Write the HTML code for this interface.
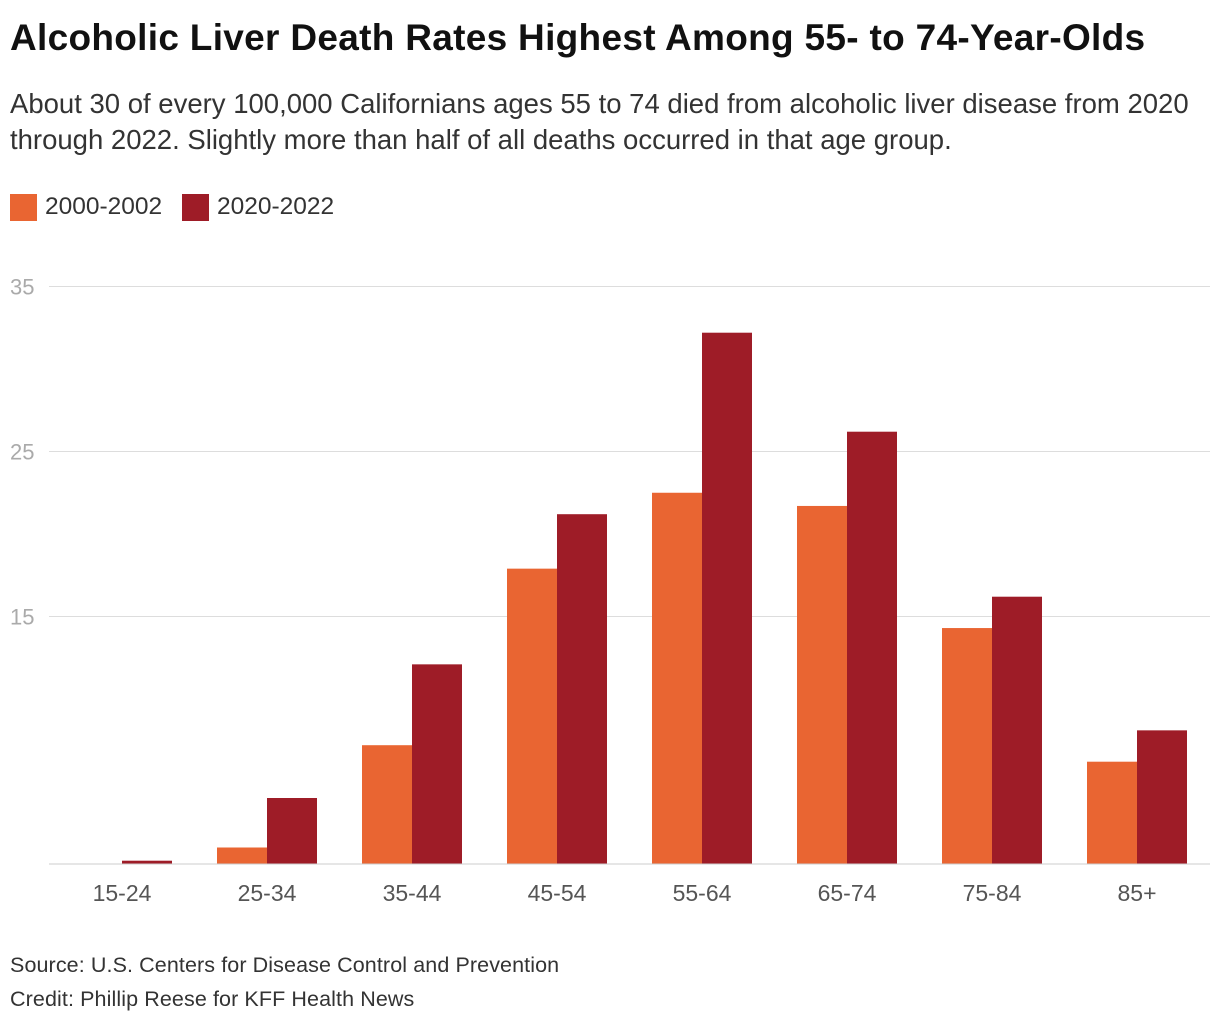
<!DOCTYPE html>
<html><head><meta charset="utf-8"><style>
body{margin:0;width:1220px;height:1022px;background:#fff;font-family:"Liberation Sans",sans-serif;color:#222;position:relative;overflow:hidden}
.t{position:absolute;left:10px;top:17px;font-size:37px;font-weight:bold;color:#111;white-space:nowrap;letter-spacing:0.3px}
.s{position:absolute;left:10px;top:86px;font-size:27.5px;line-height:36px;color:#333;white-space:nowrap}
.lg{position:absolute;top:193px;font-size:24.5px;color:#333;display:flex;align-items:center}
.sw{width:27px;height:27px;margin-right:8px}
.f{position:absolute;left:10px;font-size:21.5px;color:#333;letter-spacing:0.1px}
</style></head><body>
<div class="t">Alcoholic Liver Death Rates Highest Among 55- to 74-Year-Olds</div>
<div class="s">About 30 of every 100,000 Californians ages 55 to 74 died from alcoholic liver disease from 2020<br>through 2022. Slightly more than half of all deaths occurred in that age group.</div>
<div class="lg" style="left:10px"><div class="sw" style="background:#e96532"></div>2000-2002</div>
<div class="lg" style="left:182px"><div class="sw" style="background:#9e1c27"></div>2020-2022</div>
<svg id="c" width="1220" height="1022" style="position:absolute;left:0;top:0"></svg>
<div class="f" style="top:953px">Source: U.S. Centers for Disease Control and Prevention</div>
<div class="f" style="top:987px">Credit: Phillip Reese for KFF Health News</div>
<script>
const categories=["15-24","25-34","35-44","45-54","55-64","65-74","75-84","85+"];
const series2000=[0,1.0,7.2,17.9,22.5,21.7,14.3,6.2];
const series2020=[0.2,4.0,12.1,21.2,32.2,26.2,16.2,8.1];
const yTicks=[15,25,35];
const NS="http://www.w3.org/2000/svg",svg=document.getElementById('c');
const x0=49.5,step=145,bw=50,base=864,ppu=16.5;
const y=v=>base-v*ppu;
const gx=i=>x0+step*i+step/2;
function mk(t,a){const e=document.createElementNS(NS,t);for(const k in a)e.setAttribute(k,a[k]);svg.appendChild(e);return e;}
yTicks.forEach(v=>{
 const l=mk('line',{x1:49,x2:1210,y1:y(v),y2:y(v),stroke:'#ddd','stroke-width':1});
 
 
 const t=mk('text',{x:10,y:y(v)+8,'font-size':22,fill:'#aaa','font-family':'Liberation Sans, sans-serif'});
 t.textContent=v;
 
 
});
categories.forEach((c,i)=>{
 const a=mk('rect',{x:gx(i)-bw,y:y(series2000[i]),width:bw,height:series2000[i]*ppu,fill:'#e96532'});
 
 
 const b=mk('rect',{x:gx(i),y:y(series2020[i]),width:bw,height:series2020[i]*ppu,fill:'#9e1c27'});
 
 
 const t=mk('text',{x:gx(i),y:901,'font-size':23,fill:'#555','text-anchor':'middle','font-family':'Liberation Sans, sans-serif'});
 t.textContent=c;
 
 
});
const ax=mk('line',{x1:49,x2:1210,y1:base,y2:base,stroke:'#ccc','stroke-width':1});


</script>
</body></html>
